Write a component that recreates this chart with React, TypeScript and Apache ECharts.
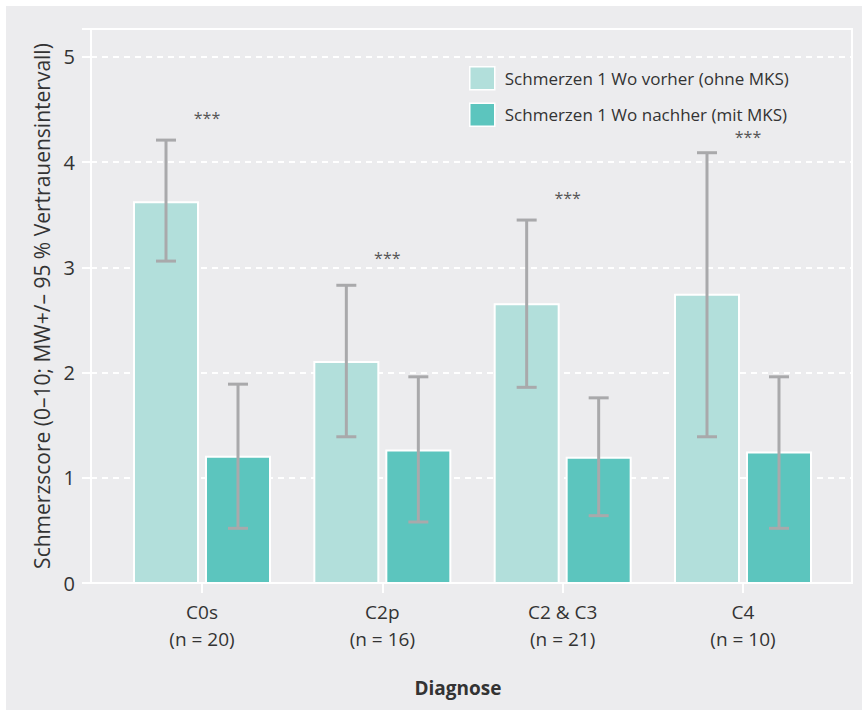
import React, { useEffect, useRef } from "react";
import * as echarts from "echarts";

const categories = ["C0s", "C2p", "C2 & C3", "C4"];
const nLabels = ["(n = 20)", "(n = 16)", "(n = 21)", "(n = 10)"];
const vorher = [3.62, 2.1, 2.65, 2.74];
const vorherLow = [3.06, 1.39, 1.86, 1.39];
const vorherHigh = [4.21, 2.83, 3.45, 4.09];
const nachher = [1.2, 1.26, 1.19, 1.24];
const nachherLow = [0.52, 0.58, 0.64, 0.52];
const nachherHigh = [1.89, 1.96, 1.76, 1.96];
const sigLabels = ["***", "***", "***", "***"];
const sigY = [4.42, 3.09, 3.66, 4.24];
const yTicks = [0, 1, 2, 3, 4, 5];

const NAME_V = "Schmerzen 1 Wo vorher (ohne MKS)";
const NAME_N = "Schmerzen 1 Wo nachher (mit MKS)";
const C_LIGHT = "#b2dfdb";
const C_DARK = "#5cc5be";
const C_ERR = "#a9a9ab";
const FONT = "Open Sans";
const TXT = "#333333";

export default function App() {
  const ref = useRef<HTMLDivElement>(null);
  useEffect(() => {
    document.body.style.margin = "0";
    const chart = echarts.init(ref.current!, null, { renderer: "svg" });
    const xs = categories.map((_, i) => i + 1);

    const barSeries = (name: string, vals: number[], color: string, off: number) => ({
      name,
      type: "custom",
      itemStyle: { color, borderColor: "#fff", borderWidth: 2 },
      data: vals.map((v, i) => [xs[i], v]),
      encode: { x: 0, y: 1 },
      renderItem: (_p: any, api: any) => {
        const x = api.value(0);
        const v = api.value(1);
        const top = api.coord([x, v]);
        const base = api.coord([x, 0]);
        return {
          type: "rect",
          shape: { x: top[0] + off - 32, y: top[1], width: 64, height: base[1] - top[1] },
          style: { fill: color, stroke: "#ffffff", lineWidth: 2 },
        };
      },
      z: 2,
    });

    const errSeries = (lo: number[], hi: number[], off: number) => ({
      type: "custom",
      data: lo.map((l, i) => [xs[i], l, hi[i]]),
      encode: { x: 0, y: [1, 2] },
      renderItem: (_p: any, api: any) => {
        const x = api.value(0);
        const a = api.coord([x, api.value(1)]);
        const b = api.coord([x, api.value(2)]);
        const cx = a[0] + off;
        const st = { stroke: C_ERR, lineWidth: 3 };
        return {
          type: "group",
          children: [
            { type: "line", shape: { x1: cx, y1: a[1], x2: cx, y2: b[1] }, style: st },
            { type: "line", shape: { x1: cx - 10, y1: a[1], x2: cx + 10, y2: a[1] }, style: st },
            { type: "line", shape: { x1: cx - 10, y1: b[1], x2: cx + 10, y2: b[1] }, style: st },
          ],
        };
      },
      z: 3,
    });

    chart.setOption({
      animation: false,
      textStyle: { fontFamily: FONT },
      graphic: [
        {
          type: "rect",
          shape: { x: 6, y: 6, width: 862, height: 710 },
          style: { fill: "#ececee" },
          z: -10,
          silent: true,
        },
        {
          type: "text",
          x: 458,
          y: 688,
          style: {
            text: "Diagnose",
            font: `bold 19px "${FONT}"`,
            fill: TXT,
            align: "center",
            verticalAlign: "middle",
          },
        },
      ],
      legend: {
        orient: "vertical",
        left: 469,
        top: 66,
        padding: 0,
        itemWidth: 25,
        itemHeight: 23,
        itemGap: 12,
        icon: "rect",
        textStyle: { fontSize: 17, color: TXT, fontFamily: FONT, padding: [0, 0, 0, 5] },
        data: [
          { name: NAME_V, itemStyle: { color: C_LIGHT, borderColor: "#fff", borderWidth: 1.5 } },
          { name: NAME_N, itemStyle: { color: C_DARK, borderColor: "#fff", borderWidth: 1.5 } },
        ],
      },
      grid: {
        left: 91,
        top: 29,
        width: 761,
        height: 554,
        show: true,
        borderColor: "#ffffff",
        borderWidth: 2,
        backgroundColor: "transparent",
      },
      xAxis: {
        type: "value",
        min: 0.3845,
        max: 4.6044,
        splitLine: { show: false },
        axisLine: { show: true, lineStyle: { color: "#ffffff", width: 2 } },
        axisTick: {
          show: true,
          customValues: xs,
          length: 10,
          lineStyle: { color: "#ffffff", width: 2 },
        },
        axisLabel: {
          customValues: xs,
          margin: 15,
          fontSize: 19,
          lineHeight: 27,
          color: TXT,
          fontFamily: FONT,
          formatter: (v: number) => {
            const i = Math.round(v) - 1;
            return categories[i] + "\n" + nLabels[i];
          },
        },
      },
      yAxis: {
        type: "value",
        min: 0,
        max: 5.266,
        interval: 1,
        name: "Schmerzscore (0–10; MW+/– 95 % Vertrauensintervall)",
        nameLocation: "middle",
        nameGap: 39,
        nameTextStyle: { fontSize: 21, color: TXT, fontFamily: FONT },
        axisLine: { show: true, lineStyle: { color: "#ffffff", width: 2 } },
        axisTick: { show: true, length: 9, lineStyle: { color: "#ffffff", width: 2 } },
        axisLabel: {
          margin: 16,
          fontSize: 20,
          color: TXT,
          fontFamily: FONT,
          customValues: yTicks,
        },
        splitLine: { show: true, lineStyle: { color: "#ffffff", width: 2, type: [6, 5] } },
      },
      series: [
        barSeries(NAME_V, vorher, C_LIGHT, -36),
        barSeries(NAME_N, nachher, C_DARK, 36),
        errSeries(vorherLow, vorherHigh, -36),
        errSeries(nachherLow, nachherHigh, 36),
        {
          type: "custom",
          data: sigY.map((v, i) => [xs[i], v]),
          encode: { x: 0, y: 1 },
          renderItem: (p: any, api: any) => {
            const c = api.coord([api.value(0), api.value(1)]);
            return {
              type: "text",
              x: c[0] + 5,
              y: c[1],
              style: {
                text: sigLabels[p.dataIndex],
                font: `16px "${FONT}"`,
                fill: "#555555",
                align: "center",
                verticalAlign: "middle",
              },
            };
          },
          z: 4,
        },
      ],
    });
    return () => chart.dispose();
  }, []);
  return <div ref={ref} style={{ width: 862, height: 710 }} />;
}
